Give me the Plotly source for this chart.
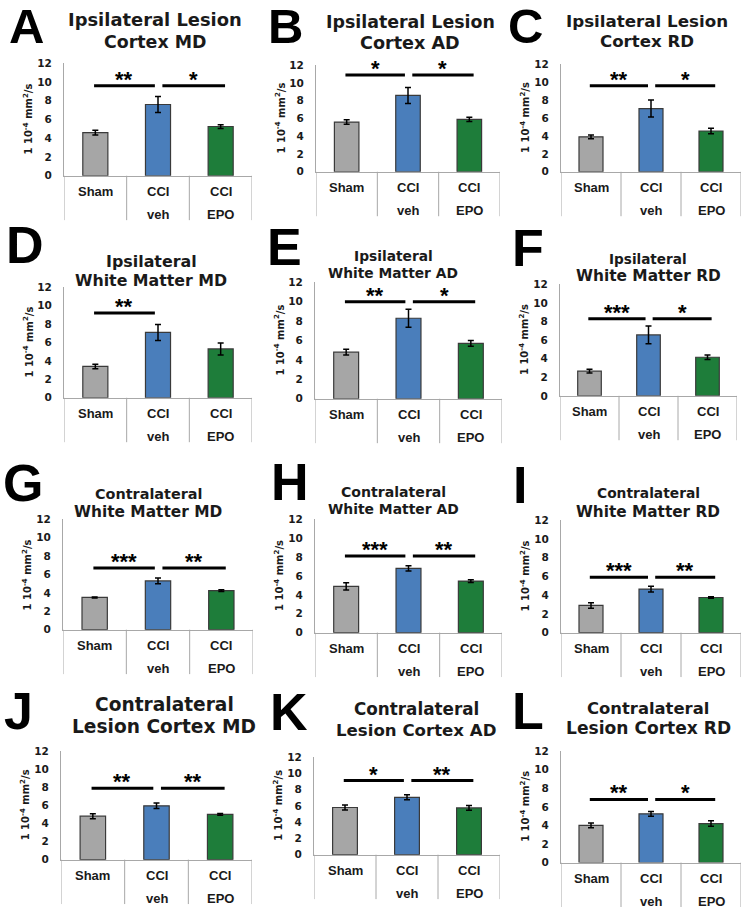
import plotly.graph_objects as go

W, H = 741, 914

# ---------------- data ----------------
letters = ["A", "B", "C", "D", "E", "F", "G", "H", "I", "J", "K", "L"]
title_line1 = ["Ipsilateral Lesion", "Ipsilateral Lesion", "Ipsilateral Lesion",
               "Ipsilateral", "Ipsilateral", "Ipsilateral",
               "Contralateral", "Contralateral", "Contralateral",
               "Contralateral", "Contralateral", "Contralateral"]
title_line2 = ["Cortex MD", "Cortex AD", "Cortex RD",
               "White Matter MD", "White Matter AD", "White Matter RD",
               "White Matter MD", "White Matter AD", "White Matter RD",
               "Lesion Cortex MD", "Lesion Cortex AD", "Lesion Cortex RD"]
label_line1 = ["Sham", "CCI", "CCI"]
label_line2 = ["", "veh", "EPO"]
y_title = "1 10<sup>-4</sup> mm<sup>2</sup>/s"
y_ticks = [0, 2, 4, 6, 8, 10, 12]

sham_mean = [4.6, 5.6, 3.9, 3.4, 4.8, 2.65, 3.5, 4.9, 2.9, 4.8, 5.8, 4.0]
sham_err = [0.25, 0.25, 0.2, 0.25, 0.3, 0.2, 0.05, 0.38, 0.3, 0.27, 0.3, 0.25]
veh_mean = [7.6, 8.6, 7.05, 7.1, 8.3, 6.55, 5.3, 6.8, 4.65, 5.95, 7.05, 5.25]
veh_err = [0.85, 0.9, 0.95, 0.87, 0.93, 0.95, 0.3, 0.28, 0.3, 0.3, 0.3, 0.25]
epo_mean = [5.25, 5.9, 4.55, 5.3, 5.7, 4.15, 4.25, 5.45, 3.75, 5.0, 5.75, 4.2]
epo_err = [0.2, 0.25, 0.3, 0.65, 0.3, 0.25, 0.1, 0.15, 0.07, 0.1, 0.3, 0.3]

sig_sham_veh = ["**", "*", "**", "**", "**", "***", "***", "***", "***", "**", "*", "**"]
sig_veh_epo = ["*", "*", "*", "", "*", "*", "**", "**", "**", "**", "**", "*"]
sig_y = [9.6, 10.9, 9.6, 9.2, 10.0, 8.3, 6.7, 8.1, 5.9, 7.9, 9.1, 6.8]

# ---------------- layout (pixels) ----------------
# (left = y axis, right, y of 12, y of 0)
panel_box = [(64, 252, 58, 172), (316, 500, 60, 168), (561, 741, 59, 168),
             (64, 252, 285, 397), (315, 502, 280, 398), (560, 737, 282, 395),
             (63, 253, 520, 632), (315, 502, 520, 635), (561, 741, 521, 635),
             (61, 252, 755, 865), (314, 500, 761, 860), (561, 741, 755, 868)]
title_pos = [(155, 15, 37), (410, 17, 38), (647, 16, 37),
             (151, 260, 279), (393, 254, 272), (648, 257, 275),
             (148, 496, 514), (393, 493, 511), (648, 494, 514),
             (164, 709, 731), (416, 713, 735), (648, 713, 733)]
title_size1 = [17.9, 17.4, 16.7, 15.9, 13.8, 13.6, 14.4, 14.1, 13.8, 18.6, 16.8, 16.4]
title_size2 = [17.4, 17.6, 16.6, 15.8, 13.8, 15.4, 15.4, 13.9, 15.3, 18.6, 16.6, 17.1]
letter_pos = [(26, 23), (285, 23), (525, 23),
              (25, 245), (284, 247), (528, 248),
              (23, 486), (290, 485), (520, 488),
              (18, 717), (289, 718), (528, 717)]
letter_size = [49, 49, 49, 52, 52, 52, 52, 52, 52, 52, 52, 52]

FONT = "Liberation Sans, Arial, sans-serif"
FONT_WIDE = "DejaVu Sans, Verdana, sans-serif"
bar_colors = ["#a6a6a6", "#4a7ebb", "#1e7d3a"]
grid_gray = "#a8a8a8"
TXT = "#1a1a1a"

fig = go.Figure()
annotations = []
shapes = []
layout = {}

for i in range(12):
    n = "" if i == 0 else str(i + 1)
    xa, ya = "x" + n, "y" + n
    x0, x1, yt, yb = panel_box[i]
    dom_x = [x0 / W, x1 / W]
    dom_y = [1 - yb / H, 1 - yt / H]
    ph = yb - yt

    fig.add_trace(go.Bar(
        x=[0, 1, 2],
        y=[sham_mean[i], veh_mean[i], epo_mean[i]],
        width=0.4,
        marker=dict(color=bar_colors, line=dict(color="#3a3a3a", width=1.2)),
        error_y=dict(type="data", array=[sham_err[i], veh_err[i], epo_err[i]],
                     color="black", thickness=1.5, width=3),
        xaxis=xa, yaxis=ya, showlegend=False, hoverinfo="skip"))

    # significance lines
    sig_pairs = [(sig_sham_veh[i], -0.02, 0.95), (sig_veh_epo[i], 1.07, 2.07)]
    for lab, a, b in sig_pairs:
        if not lab:
            continue
        fig.add_trace(go.Scatter(x=[a, b], y=[sig_y[i], sig_y[i]], mode="lines",
                                 line=dict(color="black", width=3),
                                 xaxis=xa, yaxis=ya, showlegend=False, hoverinfo="skip"))
        annotations.append(dict(x=(a + b) / 2, y=sig_y[i], xref=xa, yref=ya,
                                text="<b>" + lab + "</b>", showarrow=False,
                                yanchor="bottom", yshift=-8,
                                font=dict(family=FONT, size=22, color="black")))

    layout["xaxis" + n] = dict(domain=dom_x, range=[-0.5, 2.5], anchor=ya,
                               showline=True, linecolor=grid_gray, linewidth=1,
                               showticklabels=False, ticks="", showgrid=False,
                               zeroline=False, fixedrange=True)
    layout["yaxis" + n] = dict(domain=dom_y, range=[0, 12], anchor=xa,
                               tickvals=y_ticks, showline=True, linecolor=grid_gray,
                               linewidth=1, ticks="", showgrid=False, zeroline=False,
                               ticklabelstandoff=9,
                               tickfont=dict(family=FONT_WIDE, size=10.5, color=TXT,
                                             weight="bold"),
                               fixedrange=True)

    # category labels (Excel style, two lines)
    for k in range(3):
        annotations.append(dict(x=k, y=0, xref=xa, yref=ya + " domain",
                                text="<b>" + label_line1[k] + "</b>", showarrow=False,
                                yanchor="middle", yshift=-16,
                                font=dict(family=FONT, size=13, color=TXT)))
        if label_line2[k]:
            annotations.append(dict(x=k, y=0, xref=xa, yref=ya + " domain",
                                    text="<b>" + label_line2[k] + "</b>", showarrow=False,
                                    yanchor="middle", yshift=-39,
                                    font=dict(family=FONT, size=13, color=TXT)))
    # category dividers below the axis
    for xv in [-0.5, 0.5, 1.5, 2.5]:
        shapes.append(dict(type="line", xref=xa, yref=ya + " domain",
                           x0=xv, x1=xv, y0=0, y1=-45 / ph,
                           line=dict(color=grid_gray, width=1)))

    # y title
    annotations.append(dict(x=(x0 - 36) / W, y=0.5, xref="paper", yref=ya + " domain",
                            text="<b>" + y_title + "</b>", textangle=-90, showarrow=False,
                            xanchor="center", yanchor="middle",
                            font=dict(family=FONT_WIDE, size=10, color=TXT)))

    # title lines
    cx, ty1, ty2 = title_pos[i]
    for txt, ty, fs in [(title_line1[i], ty1, title_size1[i]),
                        (title_line2[i], ty2, title_size2[i])]:
        annotations.append(dict(x=cx / W, y=1 - ty / H, xref="paper", yref="paper",
                                text="<b>" + txt + "</b>", showarrow=False,
                                xanchor="center", yanchor="middle", yshift=1,
                                font=dict(family=FONT_WIDE, size=fs, color=TXT)))
    # panel letter
    lx, ly = letter_pos[i]
    annotations.append(dict(x=lx / W, y=1 - ly / H, xref="paper", yref="paper",
                            text="<b>" + letters[i] + "</b>", showarrow=False,
                            xanchor="center", yanchor="middle", yshift=3,
                            font=dict(family=FONT, size=letter_size[i], color="black")))

fig.update_layout(width=W, height=H, margin=dict(l=0, r=0, t=0, b=0),
                  paper_bgcolor="white", plot_bgcolor="white",
                  annotations=annotations, shapes=shapes, bargap=0.6,
                  **layout)

fig.write_html("out.html", config={"displayModeBar": False},
               post_script="document.body.style.margin='0';document.body.style.overflow='hidden';")
